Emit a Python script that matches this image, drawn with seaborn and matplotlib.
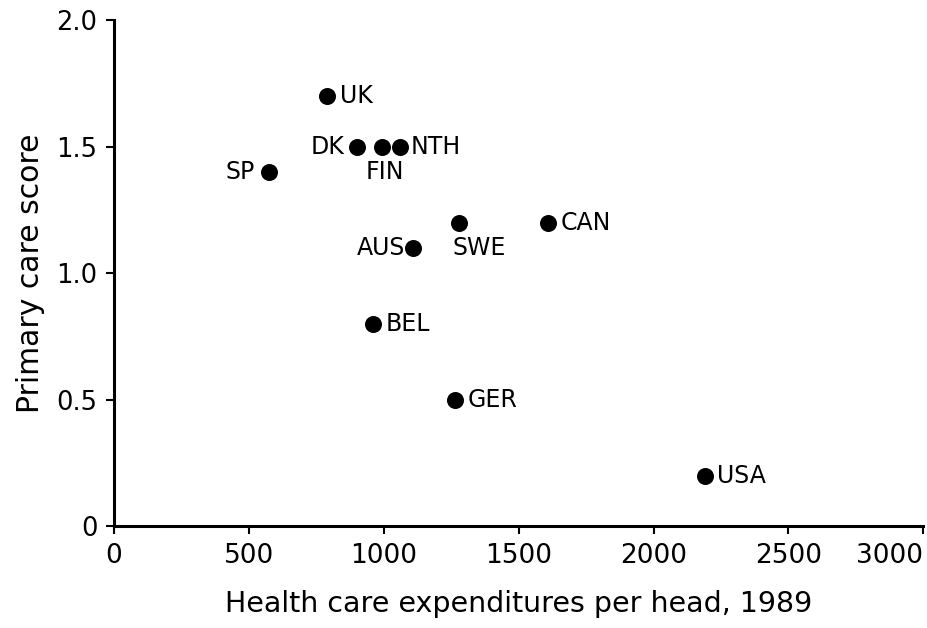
import matplotlib
matplotlib.use("Agg")
import matplotlib.pyplot as plt
import seaborn as sns
import pandas as pd

# primary care score vs health spending per head, 1989
countries = ["UK", "DK", "FIN", "NTH", "SP", "SWE", "AUS", "CAN", "BEL", "GER", "USA"]
spending = [790, 900, 995, 1060, 575, 1280, 1110, 1610, 960, 1265, 2190]
score = [1.7, 1.5, 1.5, 1.5, 1.4, 1.2, 1.1, 1.2, 0.8, 0.5, 0.2]

xticks = [0, 500, 1000, 1500, 2000, 2500, 3000]
yticks = [0, 0.5, 1.0, 1.5, 2.0]
ytick_labels = ["0", "0.5", "1.0", "1.5", "2.0"]

df = pd.DataFrame({"country": countries, "spending": spending, "score": score})

sns.set_style("white")
plt.rcParams["font.family"] = ["DejaVu Sans"]

fig = plt.figure(figsize=(9.27, 6.28), dpi=100)
ax = fig.add_axes([0.123, 0.162, 0.873, 0.806])

sns.scatterplot(data=df, x="spending", y="score", ax=ax, color="black",
                s=150, edgecolor="black", linewidth=0, zorder=3)

# where each label sits relative to its dot (offset points, alignment)
label_pos = {
    "UK": ((9, 0), "left"),
    "DK": ((-9, 0), "right"),
    "FIN": ((-12, -18), "left"),
    "NTH": ((8, 0), "left"),
    "SP": ((-10, 0), "right"),
    "SWE": ((-5, -18), "left"),
    "AUS": ((-6, 0), "right"),
    "CAN": ((9, 0), "left"),
    "BEL": ((9, 0), "left"),
    "GER": ((9, 0), "left"),
    "USA": ((9, 0), "left"),
}
for c, x, y in zip(countries, spending, score):
    off, ha = label_pos[c]
    ax.annotate(c, (x, y), xytext=off, textcoords="offset points",
                ha=ha, va="center", fontsize=17, color="black")

sns.despine(ax=ax)
for side in ["left", "bottom"]:
    ax.spines[side].set_linewidth(2.2)
    ax.spines[side].set_color("black")
ax.tick_params(axis="both", bottom=True, left=True, direction="out",
               length=6, width=1.5, color="black", labelcolor="black")
ax.tick_params(axis="x", pad=6, labelsize=19)
ax.tick_params(axis="y", pad=6, labelsize=18.5)

ax.set_xlim(0, 3000)
ax.set_ylim(0, 2.0)
ax.set_xticks(xticks, [str(t) for t in xticks])
ax.set_yticks(yticks, ytick_labels)
ax.get_xticklabels()[-1].set_ha("right")

ax.set_xlabel("Health care expenditures per head, 1989", fontsize=20.5,
              labelpad=15, color="black")
ax.set_ylabel("Primary care score", fontsize=21.5, labelpad=8, color="black")

fig.savefig("out.png", dpi=100, facecolor="white")
